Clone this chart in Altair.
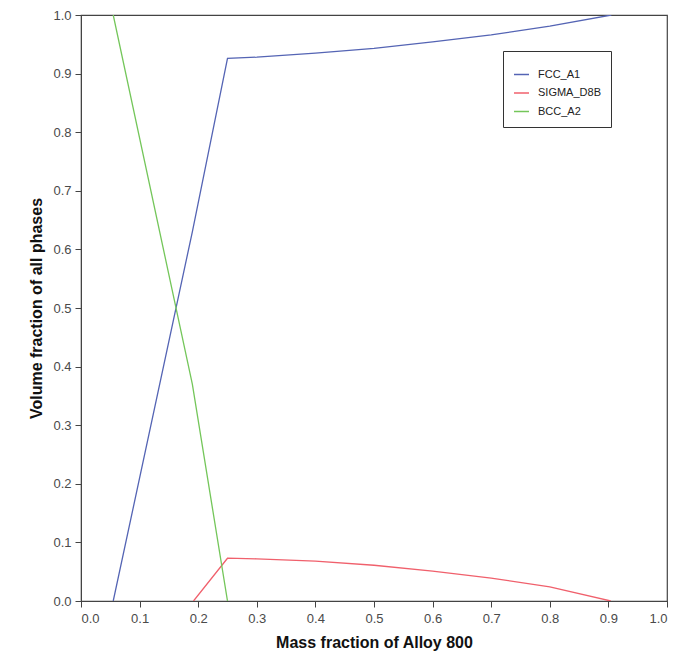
import altair as alt
import pandas as pd

series_names = ["FCC_A1", "SIGMA_D8B", "BCC_A2"]
series_colors = ["#5464b4", "#f0606c", "#74c65a"]

fcc_x = [0.055, 0.19, 0.25, 0.30, 0.40, 0.50, 0.60, 0.70, 0.80, 0.905]
fcc_y = [0.0, 0.63, 0.926, 0.928, 0.935, 0.943, 0.954, 0.966, 0.981, 1.0]

sigma_x = [0.192, 0.25, 0.30, 0.40, 0.50, 0.60, 0.70, 0.80, 0.904]
sigma_y = [0.0, 0.073, 0.072, 0.068, 0.061, 0.051, 0.039, 0.024, 0.0]

bcc_x = [0.055, 0.19, 0.25]
bcc_y = [1.0, 0.37, 0.0]

rows = []
for name, xs, ys in [("FCC_A1", fcc_x, fcc_y), ("SIGMA_D8B", sigma_x, sigma_y), ("BCC_A2", bcc_x, bcc_y)]:
    for i, (xv, yv) in enumerate(zip(xs, ys)):
        rows.append({"phase": name, "x": xv, "y": yv, "order": i})
df = pd.DataFrame(rows)

font = "Liberation Sans"

chart = alt.Chart(df).mark_line(strokeWidth=1.3, clip=True).encode(
    x=alt.X("x:Q", title="Mass fraction of Alloy 800",
            scale=alt.Scale(domain=[0, 1], nice=False, zero=False),
            axis=alt.Axis(values=[i / 10 for i in range(11)], format=".1f", grid=False,
                          tickSize=6, labelPadding=5, titlePadding=9,
                          labelFontSize=13, titleFontSize=16, titleFontWeight="bold")),
    y=alt.Y("y:Q", title="Volume fraction of all phases",
            scale=alt.Scale(domain=[0, 1], nice=False, zero=False),
            axis=alt.Axis(values=[i / 10 for i in range(11)], format=".1f", grid=False,
                          tickSize=6, labelPadding=4, titlePadding=8,
                          labelFontSize=13, titleFontSize=16, titleFontWeight="bold")),
    color=alt.Color("phase:N", title=" ",
                    scale=alt.Scale(domain=series_names, range=series_colors),
                    sort=series_names,
                    legend=alt.Legend(orient="none", legendX=422, legendY=36,
                                      titleFontSize=3, titlePadding=2,
                                      symbolType="stroke", symbolSize=225, symbolStrokeWidth=1.5,
                                      labelFontSize=11, labelOffset=8, rowPadding=4.5,
                                      padding=10, strokeColor="#333", fillColor="white",
                                      labelColor="#222")),
    order="order:Q",
).properties(
    width=586, height=586,
    autosize=alt.AutoSizeParams(type="none"),
    padding={"left": 73, "top": 7, "right": 3, "bottom": 57},
).configure_view(
    stroke="#444", strokeWidth=1.2
).configure_axis(
    labelFont=font, titleFont=font, labelColor="#4a4a4a", titleColor="#111",
    domainColor="#444", tickColor="#444"
).configure_legend(
    labelFont=font
)

chart.save("out.html", embed_options={"renderer": "svg", "actions": False})
